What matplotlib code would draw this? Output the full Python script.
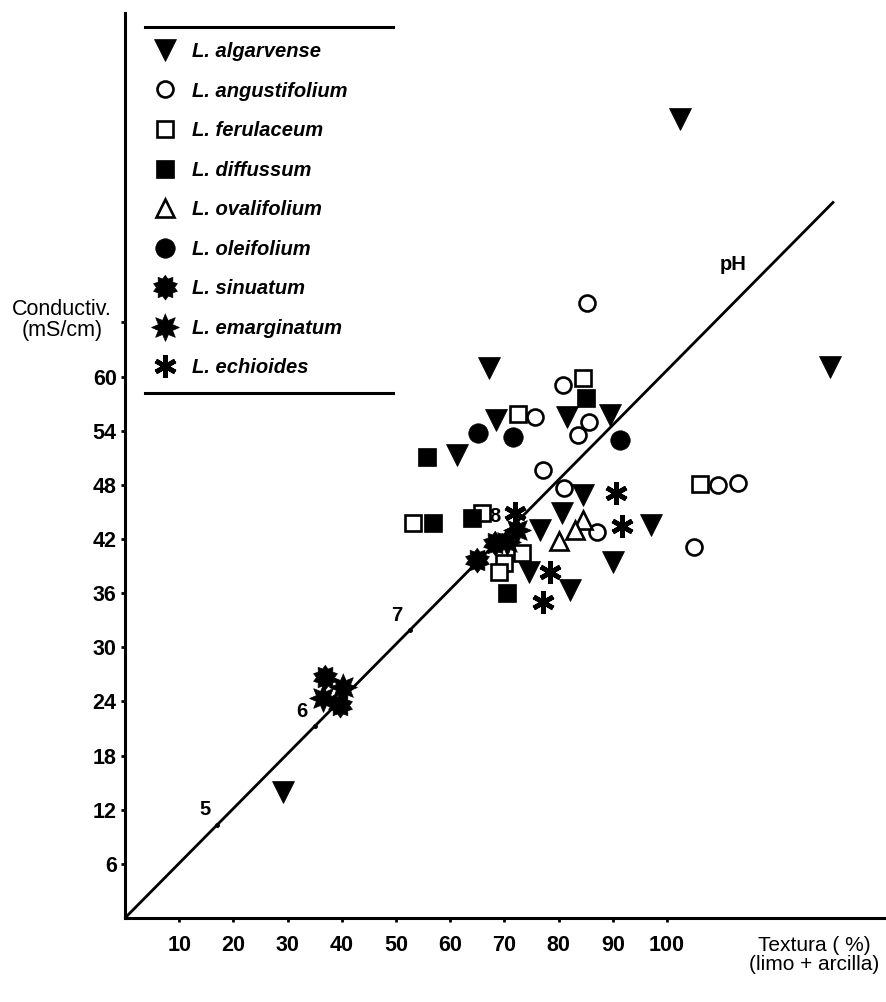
import numpy as np
import matplotlib
matplotlib.use('Agg')
import matplotlib.pyplot as plt
from matplotlib.lines import Line2D

plt.rcParams['font.family'] = ['Liberation Sans', 'DejaVu Sans']

# ---------------- data ----------------
species = ['L. algarvense', 'L. angustifolium', 'L. ferulaceum', 'L. diffussum',
           'L. ovalifolium', 'L. oleifolium', 'L. sinuatum', 'L. emarginatum',
           'L. echioides']

algarvense_x = [102.4, 130.1, 67.2, 68.5, 81.5, 89.5, 61.2, 84.5, 80.6, 76.6, 97.0, 90.0, 74.5, 82.1, 29.2]
algarvense_y = [88.5, 61.1, 61.0, 55.2, 55.5, 55.8, 51.3, 46.9, 44.9, 43.0, 43.6, 39.5, 38.4, 36.4, 14.0]

angustifolium_x = [85.2, 80.8, 75.6, 85.6, 83.6, 77.1, 80.9, 87.1, 109.4, 113.1, 105.0]
angustifolium_y = [68.2, 59.1, 55.5, 55.0, 53.5, 49.7, 47.7, 42.8, 48.0, 48.2, 41.1]

ferulaceum_x = [84.5, 72.5, 53.2, 65.9, 73.2, 70.0, 69.0, 106.1]
ferulaceum_y = [59.8, 55.9, 43.8, 44.9, 40.5, 39.3, 38.3, 48.1]

diffussum_x = [85.1, 55.7, 56.8, 64.0, 70.4]
diffussum_y = [57.6, 51.1, 43.8, 44.3, 36.0]

ovalifolium_x = [84.5, 83.0, 80.0]
ovalifolium_y = [44.1, 43.0, 41.8]

oleifolium_x = [65.1, 71.6, 91.3]
oleifolium_y = [53.7, 53.3, 53.0]

sinuatum_x = [36.9, 39.7, 64.9, 68.3]
sinuatum_y = [26.7, 23.6, 39.7, 41.6]

emarginatum_x = [40.2, 36.5, 70.5, 72.3]
emarginatum_y = [25.6, 24.4, 41.7, 43.0]

echioides_x = [90.6, 91.7, 72.0, 78.4, 77.1]
echioides_y = [47.1, 43.5, 44.9, 38.4, 35.0]

x_ticks = [10, 20, 30, 40, 50, 60, 70, 80, 90, 100]
y_ticks = [6, 12, 18, 24, 30, 36, 42, 48, 54, 60, 66]
y_tick_labels = ['6', '12', '18', '24', '30', '36', '42', '48', '54', '60', '']

ph_line_x = [0, 130.6]
ph_line_y = [0, 79.3]
ph_labels = ['5', '6', '7', '8']
ph_label_x = [17.0, 35.0, 52.5, 70.5]

# ---------------- marker shapes ----------------
def star(n, inner):
    ang = np.linspace(0, 2 * np.pi, 2 * n, endpoint=False) + np.pi / 2
    r = np.where(np.arange(2 * n) % 2 == 0, 1.0, inner)
    return np.column_stack([r * np.cos(ang), r * np.sin(ang)])

sinuatum_marker = star(10, 0.72)
emarginatum_marker = star(8, 0.55)

styles = [
    dict(marker='v', ms=16, mfc='black', mec='black', mew=0.5),
    dict(marker='o', ms=11.5, mfc='white', mec='black', mew=1.9),
    dict(marker='s', ms=12, mfc='white', mec='black', mew=1.9),
    dict(marker='s', ms=13.5, mfc='black', mec='black', mew=0.5),
    dict(marker='^', ms=13.5, mfc='white', mec='black', mew=1.9),
    dict(marker='o', ms=14, mfc='black', mec='black', mew=0.5),
    dict(marker=sinuatum_marker, ms=18, mfc='black', mec='black', mew=0.5),
    dict(marker=emarginatum_marker, ms=20, mfc='black', mec='black', mew=0.5),
    dict(marker=(6, 2, 0), ms=16, mfc='black', mec='black', mew=3.4),
]

series = [(algarvense_x, algarvense_y), (angustifolium_x, angustifolium_y),
          (ferulaceum_x, ferulaceum_y), (diffussum_x, diffussum_y),
          (ovalifolium_x, ovalifolium_y), (oleifolium_x, oleifolium_y),
          (sinuatum_x, sinuatum_y), (emarginatum_x, emarginatum_y),
          (echioides_x, echioides_y)]

# ---------------- figure ----------------
W, H = 887, 1002
fig = plt.figure(figsize=(W / 100, H / 100), dpi=100)
ax = fig.add_axes([125 / W, 1 - 918 / H, (885 - 125) / W, (918 - 13) / H])
ax.set_xlim(0, 140.2)
ax.set_ylim(0, 100.3)

for s in ['top', 'right']:
    ax.spines[s].set_visible(False)
for s in ['left', 'bottom']:
    ax.spines[s].set_linewidth(2.2)

ax.set_xticks(x_ticks)
ax.set_xticklabels([str(v) for v in x_ticks])
ax.set_yticks(y_ticks)
ax.set_yticklabels(y_tick_labels)
ax.tick_params(direction='out', length=3, width=2, labelsize=15.5)
ax.tick_params(axis='x', pad=9)
ax.tick_params(axis='y', pad=3)
for lab in ax.get_xticklabels() + ax.get_yticklabels():
    lab.set_fontweight('bold')

# pH line
ax.plot(ph_line_x, ph_line_y, color='black', lw=2.0, zorder=2)
ph_label_y = np.interp(ph_label_x, ph_line_x, ph_line_y)
for lab, px, py in zip(ph_labels, ph_label_x, ph_label_y):
    ax.plot(px, py, marker='o', ms=2.5, color='black', zorder=2)
    ax.annotate(lab, (px, py), xytext=(-5, 4), textcoords='offset points',
                ha='right', va='bottom', fontsize=14.5, fontweight='bold')
ax.annotate('pH', (ph_line_x[1], ph_line_y[1]), xytext=(-72, -45),
            textcoords='offset points', ha='center', va='center',
            fontsize=14.5, fontweight='bold')

handles = []
for (xs, ys), st, name in zip(series, styles, species):
    ax.plot(xs, ys, ls='none', zorder=3, **st)
    handles.append(Line2D([], [], ls='none', **st))

leg = fig.legend(handles, species, loc='upper left',
                 bbox_to_anchor=(155 / W, 1 - 42 / H),
                 frameon=False, handlelength=1.0, handletextpad=0.85,
                 labelspacing=1.02, borderpad=0, borderaxespad=0,
                 prop=dict(size=14.5, style='italic', weight='bold'))

# legend rules
fig.add_artist(Line2D([145 / W, 393 / W], [1 - 27 / H, 1 - 27 / H],
                      transform=fig.transFigure, color='black', lw=2.2))
fig.add_artist(Line2D([145 / W, 393 / W], [1 - 393 / H, 1 - 393 / H],
                      transform=fig.transFigure, color='black', lw=2.2))

# axis titles
fig.text(62 / W, 1 - 320 / H, 'Conductiv.\n(mS/cm)', ha='center', va='center',
         fontsize=15.5, linespacing=1.05)
fig.text(814 / W, 1 - 955 / H, 'Textura ( %)\n(limo + arcilla)', ha='center',
         va='center', fontsize=15, linespacing=1.05)

fig.savefig('out.png', dpi=100)
